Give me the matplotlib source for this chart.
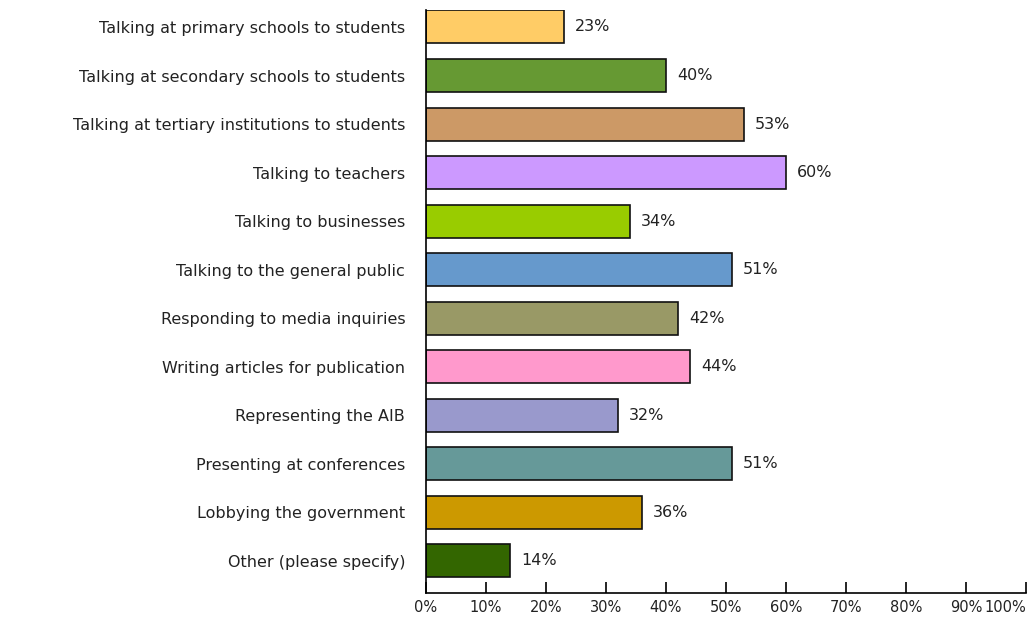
import matplotlib.pyplot as plt
import matplotlib.ticker as plticker

categories = [
    "Talking at primary schools to students",
    "Talking at secondary schools to students",
    "Talking at tertiary institutions to students",
    "Talking to teachers",
    "Talking to businesses",
    "Talking to the general public",
    "Responding to media inquiries",
    "Writing articles for publication",
    "Representing the AIB",
    "Presenting at conferences",
    "Lobbying the government",
    "Other (please specify)",
]
percents = [23, 40, 53, 60, 34, 51, 42, 44, 32, 51, 36, 14]
colors = ["#FFCC66", "#669933", "#CC9966", "#CC99FF", "#99CC00", "#6699CC",
          "#999966", "#FF99CC", "#9999CC", "#669999", "#CC9900", "#336600"]
xticks = [0, 10, 20, 30, 40, 50, 60, 70, 80, 90, 100]

fs = 11.5
fig = plt.figure(figsize=(10.3, 6.2), dpi=100)
ax = fig.add_axes([426 / 1030, 27 / 620, 600 / 1030, 583 / 620])

pos = list(range(len(categories)))
ax.barh(pos, percents, height=0.68, color=colors, edgecolor="#111111", linewidth=1.2)
for y, v in zip(pos, percents):
    ax.text(v + 1.8, y, f"{v}%", va="center", ha="left", fontsize=fs, color="#222222")

ax.set_xlim(0, 100)
ax.set_ylim(len(categories) - 1 + 0.66, -0.35)
ax.set_yticks(pos)
ax.set_yticklabels(categories, fontsize=fs, color="#222222")
ax.tick_params(axis="y", length=0, pad=15)
ax.set_xticks(xticks)
ax.xaxis.set_major_formatter(plticker.FuncFormatter(lambda v, p: f"{int(v)}%"))
ax.tick_params(axis="x", direction="in", length=8, width=1.2, labelsize=10.5,
               labelcolor="#222222", pad=5)
ax.get_xticklabels()[-1].set_horizontalalignment("right")
ax.spines["top"].set_visible(False)
ax.spines["right"].set_visible(False)
ax.spines["left"].set_linewidth(1.2)
ax.spines["bottom"].set_linewidth(1.2)

plt.savefig("out.png", dpi=100)
